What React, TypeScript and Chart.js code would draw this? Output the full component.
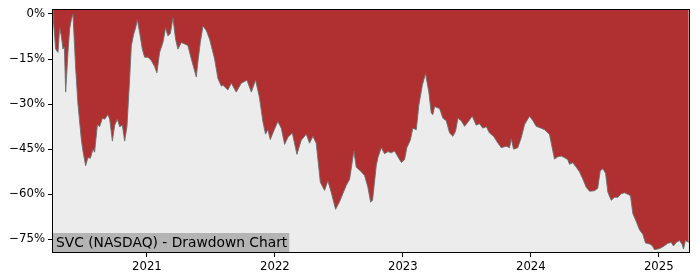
import React, { useEffect, useRef } from "react";
import { Chart, registerables } from "chart.js";

Chart.register(...registerables);

// decimal year of each observation
const dates: number[] = [
  2020.267, 2020.271, 2020.287, 2020.305, 2020.318, 2020.331, 2020.344, 2020.355, 2020.365, 2020.383,
  2020.396, 2020.409, 2020.422, 2020.443, 2020.461, 2020.488, 2020.5, 2020.521, 2020.539, 2020.558,
  2020.578, 2020.591, 2020.613, 2020.63, 2020.652, 2020.67, 2020.695, 2020.709, 2020.73, 2020.748,
  2020.769, 2020.787, 2020.808, 2020.826, 2020.844, 2020.865, 2020.878, 2020.896, 2020.912, 2020.925,
  2020.943, 2020.964, 2020.982, 2021.008, 2021.034, 2021.06, 2021.078, 2021.099, 2021.125, 2021.146,
  2021.164, 2021.183, 2021.203, 2021.224, 2021.242, 2021.269, 2021.295, 2021.32, 2021.347, 2021.386,
  2021.398, 2021.417, 2021.438, 2021.464, 2021.49, 2021.529, 2021.555, 2021.581, 2021.594, 2021.633,
  2021.659, 2021.698, 2021.738, 2021.763, 2021.781, 2021.816, 2021.849, 2021.88, 2021.906, 2021.927,
  2021.945, 2021.964, 2021.99, 2022.023, 2022.05, 2022.076, 2022.102, 2022.136, 2022.172, 2022.206,
  2022.245, 2022.271, 2022.297, 2022.323, 2022.355, 2022.388, 2022.414, 2022.441, 2022.474, 2022.505,
  2022.531, 2022.558, 2022.584, 2022.617, 2022.636, 2022.675, 2022.701, 2022.727, 2022.748, 2022.763,
  2022.792, 2022.805, 2022.831, 2022.857, 2022.883, 2022.909, 2022.935, 2022.961, 2022.988, 2023.013,
  2023.031, 2023.058, 2023.078, 2023.105, 2023.125, 2023.152, 2023.177, 2023.203, 2023.222, 2023.234,
  2023.248, 2023.287, 2023.313, 2023.339, 2023.365, 2023.391, 2023.412, 2023.43, 2023.456, 2023.482,
  2023.508, 2023.542, 2023.573, 2023.599, 2023.625, 2023.652, 2023.677, 2023.709, 2023.742, 2023.769,
  2023.808, 2023.834, 2023.847, 2023.865, 2023.898, 2023.925, 2023.951, 2023.99, 2024.016, 2024.042,
  2024.081, 2024.107, 2024.146, 2024.167, 2024.185, 2024.211, 2024.238, 2024.263, 2024.289, 2024.302,
  2024.328, 2024.355, 2024.38, 2024.406, 2024.433, 2024.459, 2024.498, 2024.523, 2024.542, 2024.563,
  2024.584, 2024.602, 2024.628, 2024.654, 2024.68, 2024.706, 2024.732, 2024.758, 2024.779, 2024.797,
  2024.823, 2024.849, 2024.875, 2024.896, 2024.927, 2024.948, 2024.966, 2024.992, 2025.019, 2025.045,
  2025.07, 2025.097, 2025.115, 2025.136, 2025.162, 2025.183, 2025.193, 2025.208, 2025.234,
];

// drawdown from running peak, percent
const drawdown: number[] = [
  -2.5, -3, -11.7, -12.8, -4.6, -7.3, -11.7, -11, -26, -12.8,
  -5, -1.9, 0, -18, -30, -42, -45.6, -50.5, -47.8, -48,
  -45, -46, -36.8, -37.5, -34.7, -35, -33.5, -35, -42.3, -37,
  -35, -37.5, -37, -42.3, -37.5, -21.5, -10.6, -6.8, -4.6, -1.9,
  -6.2, -11.7, -14.4, -14.4, -15.5, -17.5, -19.6, -12.8, -9.5, -4.6,
  -7.3, -6.5, -1.3, -8.4, -11.7, -9.5, -10, -10.5, -15, -21,
  -16, -9.5, -4, -5.5, -8.4, -15, -21.5, -24, -23.7, -25.3,
  -23, -26, -23, -22.5, -22, -26, -22, -28, -35.8, -40,
  -38.5, -41.8, -39, -35.8, -38, -43.4, -41, -39.6, -46.7, -42,
  -40, -43, -40.7, -43, -56, -58.7, -55.5, -59.5, -65, -62.5,
  -59.8, -57, -55, -45.6, -51, -52.5, -53.8, -57.7, -62.6, -62,
  -50.5, -47.8, -44.5, -46.5, -45.8, -46.2, -45.6, -47.5, -49.4, -48.5,
  -44.5, -42, -38, -38.5, -30.3, -23.7, -19.9, -26, -33, -33.5,
  -30.8, -31.5, -34.7, -35.5, -39.6, -40.7, -39, -34.7, -35.5, -37.4,
  -36, -34, -37, -36.5, -38, -37.5, -39.6, -40.7, -42.9, -44.5,
  -44, -44.5, -41.5, -45, -44.5, -41.2, -36.8, -34, -35.5, -37.4,
  -38, -38.5, -40.1, -44.5, -48.3, -47.5, -47.3, -47.8, -48.5, -50,
  -49.5, -51, -52.5, -54.9, -57.7, -59, -58.8, -58, -52.2, -51.5,
  -53, -59.3, -62, -61, -61, -59.8, -59.5, -60, -60.5, -66.4,
  -69, -71.8, -73.3, -76.2, -76.5, -77, -78.4, -78.2, -77.8, -77.1,
  -76.3, -76, -77.2, -76, -75.4, -76.7, -78.2, -75.4, -76,
];

const yearTicks: number[] = [2021, 2022, 2023, 2024, 2025];
const pctTicks: number[] = [0, -15, -30, -45, -60, -75];
const xRange: number[] = [2020.266, 2025.236];
const yRange: number[] = [-79.2, 1.3];
const chartTitle = "SVC (NASDAQ) - Drawdown Chart";

const FONT = "'DejaVu Sans', sans-serif";

export default function App() {
  const ref = useRef<HTMLCanvasElement | null>(null);

  useEffect(() => {
    document.body.style.margin = "0";
    const canvas = ref.current;
    if (!canvas) return;

    const decor = {
      id: "decor",
      beforeDraw(chart: any) {
        const { ctx, chartArea: a } = chart;
        ctx.save();
        ctx.fillStyle = "#ffffff";
        ctx.fillRect(0, 0, chart.width, chart.height);
        ctx.fillStyle = "#ececec";
        ctx.fillRect(a.left, a.top, a.right - a.left, a.bottom - a.top);
        ctx.restore();
      },
      afterDatasetsDraw(chart: any) {
        const { ctx, chartArea: a } = chart;
        ctx.save();
        // title box
        ctx.font = `13.8px ${FONT}`;
        const w = ctx.measureText(chartTitle).width;
        const h = 19;
        ctx.fillStyle = "#b4b4b4";
        ctx.fillRect(a.left, a.bottom - h, w + 5, h);
        ctx.fillStyle = "#000";
        ctx.textBaseline = "alphabetic";
        ctx.textAlign = "left";
        ctx.fillText(chartTitle, a.left + 3, a.bottom - 5);
        // frame
        ctx.strokeStyle = "#000";
        ctx.lineWidth = 1;
        ctx.strokeRect(
          Math.round(a.left) - 0.5,
          Math.round(a.top) - 0.5,
          Math.round(a.right - a.left) + 1,
          Math.round(a.bottom - a.top) + 1
        );
        ctx.restore();
      },
    };

    const chart = new Chart(canvas, {
      type: "line",
      data: {
        datasets: [
          {
            data: dates.map((d, i) => ({ x: d, y: drawdown[i] })),
            fill: "end",
            backgroundColor: "#b03031",
            borderColor: "rgba(110,110,110,0.9)",
            borderWidth: 1,
            pointRadius: 0,
            tension: 0,
          },
        ],
      },
      options: {
        responsive: false,
        animation: false,
        events: [],
        layout: { padding: { left: 0, right: 11, top: 7, bottom: 0 } },
        plugins: {
          legend: { display: false },
          tooltip: { enabled: false },
          title: { display: false },
        },
        scales: {
          x: {
            type: "linear",
            min: xRange[0],
            max: xRange[1],
            afterBuildTicks: (axis: any) => {
              axis.ticks = yearTicks.map((v) => ({ value: v }));
            },
            afterFit: (axis: any) => {
              axis.height = 28;
            },
            border: { display: false },
            grid: {
              display: true,
              drawOnChartArea: false,
              drawTicks: true,
              tickLength: 5,
              color: "#000",
              lineWidth: 1,
            },
            ticks: {
              color: "#000",
              font: { family: FONT, size: 11.7 },
              padding: 3,
              maxRotation: 0,
              autoSkip: false,
              callback: (v: any) => String(v),
            },
          },
          y: {
            type: "linear",
            min: yRange[0],
            max: yRange[1],
            afterBuildTicks: (axis: any) => {
              axis.ticks = pctTicks.map((v) => ({ value: v }));
            },
            afterFit: (axis: any) => {
              axis.width = 53;
            },
            border: { display: false },
            grid: {
              display: true,
              drawOnChartArea: false,
              drawTicks: true,
              tickLength: 5,
              color: "#000",
              lineWidth: 1,
            },
            ticks: {
              color: "#000",
              font: { family: FONT, size: 11.7 },
              padding: 3,
              autoSkip: false,
              callback: (v: any) => (v === 0 ? "0%" : (v < 0 ? "\u2212" : "") + Math.abs(v) + "%"),
            },
          },
        },
      },
      plugins: [decor],
    });

    return () => chart.destroy();
  }, []);

  return (
    <div style={{ width: 700, height: 280 }}>
      <canvas ref={ref} width={700} height={280} style={{ display: "block" }} />
    </div>
  );
}
